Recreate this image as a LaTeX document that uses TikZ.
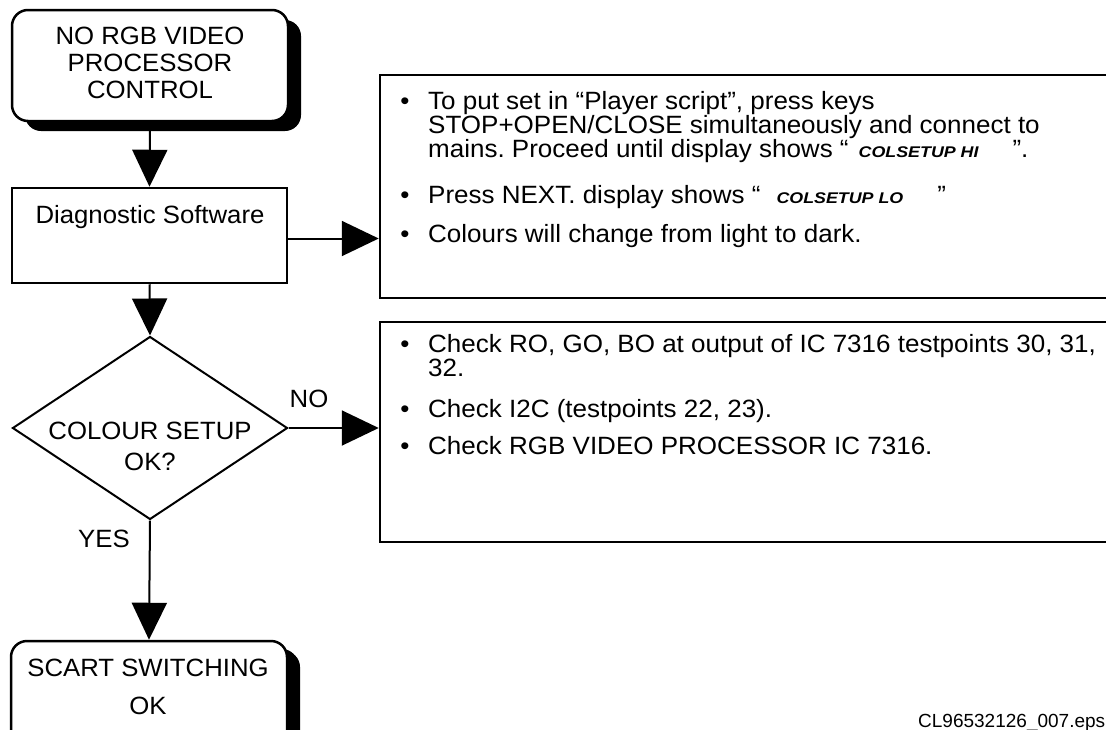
\documentclass[tikz,border=0pt]{standalone}
\usepackage{fontspec}
\setmainfont{Liberation Sans}
\newfontfamily\lblfont{Liberation Sans}[FakeStretch=1.03]
\newfontfamily\bulfont{Liberation Sans}[FakeStretch=1.04]
\newfontfamily\csfont{Liberation Sans}[FakeStretch=1.15]
\usetikzlibrary{arrows.meta,shapes.geometric,shadows}
\newcommand{\csx}[1]{{\csfont\fontsize{15.5}{18}\selectfont\bfseries\itshape #1}}
\frenchspacing
\begin{document}
\begin{tikzpicture}[x=1pt,y=-1pt,
  lbl/.style={font=\lblfont\fontsize{25}{28}\selectfont, inner sep=0, anchor=base},
  txt/.style={font=\bulfont\fontsize{25}{28}\selectfont, inner sep=0, anchor=base west},
  bul/.style={font=\bulfont\fontsize{25}{28}\selectfont, inner sep=0, anchor=base},
  box/.style={draw, line width=2.5pt, fill=white, inner sep=0},
  rbox/.style={box, rounded corners=16pt,
    drop shadow={shadow xshift=13pt, shadow yshift=-10pt, fill=black, opacity=1}},
  conn/.style={line width=2pt, -{Triangle[width=35pt,length=37pt]}},
  decision/.style={draw, line width=2pt, diamond, inner sep=0, fill=white},
]
\path[use as bounding box, clip] (0,0) rectangle (1106,729);
\fill[white] (0,0) rectangle (1106,729);

% flow nodes
\node[rbox, minimum width=276pt, minimum height=111pt] (start) at (150,65.5) {};
\node[box, minimum width=275pt, minimum height=95pt] (diag) at (149.5,235.5) {};
\node[decision, minimum width=275pt, minimum height=183pt] (dia) at (150,428) {};
\node[rbox, minimum width=276pt, minimum height=119pt,
  drop shadow={shadow xshift=11pt, shadow yshift=-8pt, fill=black, opacity=1}] (scart) at (149,700.5) {};
\node[box, minimum width=750pt, minimum height=223pt] (box1) at (755,186.5) {};
\node[box, minimum width=750pt, minimum height=220pt] (box2) at (755,432) {};

% labels in flow nodes
\node[lbl] (s1) at (150,44) {NO RGB VIDEO};
\node[lbl] (s2) at (150,71) {PROCESSOR};
\node[lbl] (s3) at (150,98) {CONTROL};
\node[lbl] (d1) at (150,223) {Diagnostic Software};
\node[lbl] (q1) at (150,439) {COLOUR SETUP};
\node[lbl] (q2) at (150,470) {OK?};
\node[lbl] (e1) at (148,676) {SCART SWITCHING};
\node[lbl] (e2) at (148,714) {OK};

% connectors
\draw[conn] (start.south) -- (diag.north);
\draw[conn] ([yshift=-3pt]diag.east) -- ([yshift=-3pt]diag.east -| box1.west);
\draw[conn] (diag.south) -- (dia.north);
\draw[conn] (dia.east) -- (dia.east -| box2.west);
\draw[conn] (dia.south) -- (scart.north);
\node[lbl] (no) at (309,407) {NO};
\node[lbl] (yes) at (104,547) {YES};

% box 1 text
\node[bul] (b1) at (405,109) {•};
\node[txt] (t1a) at (428,109) {To put set in “Player script”, press keys};
\node[txt] (t1b) at (428,133) {STOP+OPEN/CLOSE simultaneously and connect to};
\node[txt] (t1c) at (428,157) {mains. Proceed until display shows “\hspace{10pt}\csx{COLSETUP HI}\hspace{34pt}”.};
\node[bul] (b2) at (405,203) {•};
\node[txt] (t2) at (428,203) {Press NEXT. display shows “\hspace{16pt}\csx{COLSETUP LO}\hspace{34pt}”};
\node[bul] (b3) at (405,242) {•};
\node[txt] (t3) at (428,242) {Colours will change from light to dark.};

% box 2 text
\node[bul] (c1) at (405,352) {•};
\node[txt] (u1a) at (428,352) {Check RO, GO, BO at output of IC 7316 testpoints 30, 31,};
\node[txt] (u1b) at (428,376) {32.};
\node[bul] (c2) at (405,417) {•};
\node[txt] (u2) at (428,417) {Check I2C (testpoints 22, 23).};
\node[bul] (c3) at (405,454) {•};
\node[txt] (u3) at (428,454) {Check RGB VIDEO PROCESSOR IC 7316.};

% file name
\node[font=\fontsize{19}{22}\selectfont, inner sep=0, anchor=base west] (fn) at (918,727) {CL96532126\_007.eps};
\end{tikzpicture}
\end{document}
